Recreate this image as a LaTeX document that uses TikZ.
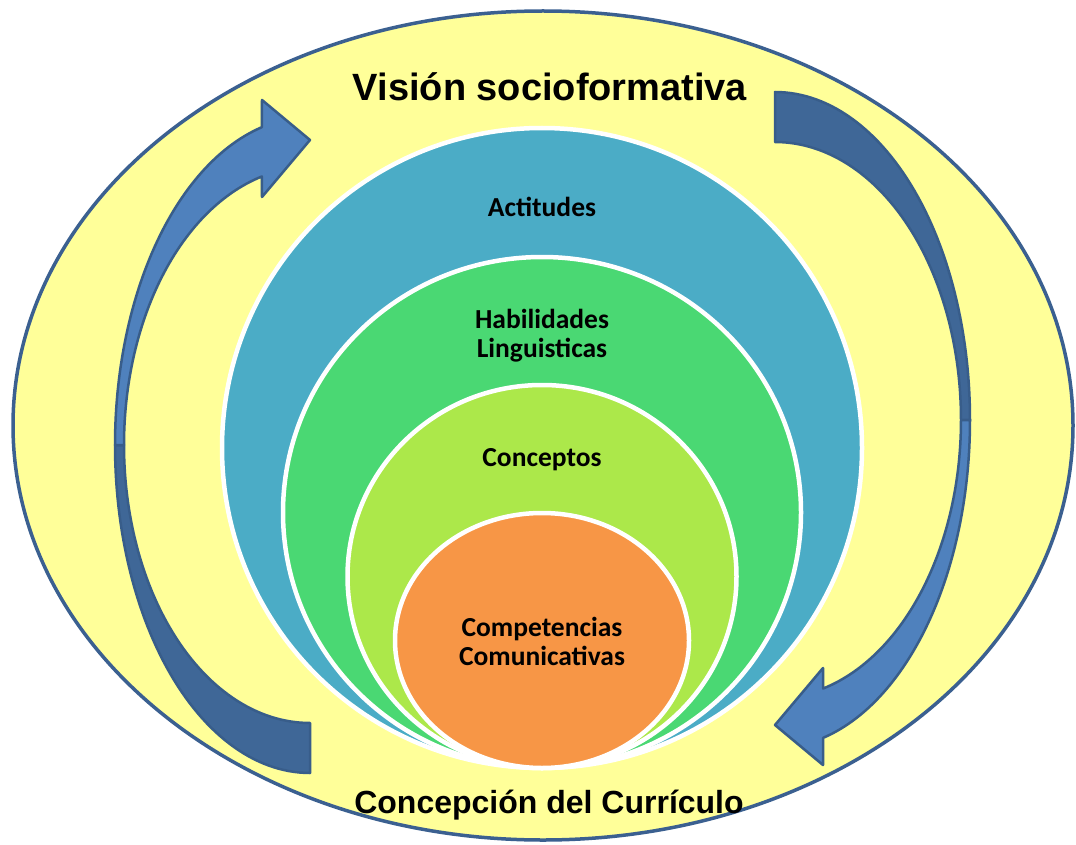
\documentclass[tikz,border=0pt]{standalone}
\usepackage{fontspec}
\setmainfont{Liberation Sans}
\newfontfamily\calfont{Carlito}
\usetikzlibrary{shapes.geometric}
\definecolor{bgyellow}{HTML}{FFFF99}
\definecolor{rimblue}{HTML}{3B6090}
\definecolor{ringblue}{HTML}{4BACC6}
\definecolor{ringgreen}{HTML}{4AD873}
\definecolor{ringlime}{HTML}{ACE84A}
\definecolor{ringorange}{HTML}{F79646}
\definecolor{arrowlight}{HTML}{4F81BD}
\definecolor{arrowdark}{HTML}{3F6797}
\definecolor{arrowrim}{HTML}{385D8A}
\tikzset{
  ring/.style={ellipse, draw=white, line width=4.5pt, inner sep=0pt},
  innertext/.style={font=\calfont\bfseries\fontsize{27.5}{30}\selectfont, text=black, inner sep=0pt, anchor=base},
  titletext/.style={font=\bfseries, text=black, inner sep=0pt, anchor=base},
  arrowpart/.style={draw=arrowrim, line width=2.5pt, line join=round},
}
\newcommand{\curvedarrow}{%
  % back (tail) part
  \filldraw[arrowpart, fill=arrowdark]
    plot[domain=90:180, samples=60] ({310+195*cos(\x)},{445+328*sin(\x)})
    -- plot[domain=180:90, samples=60] ({310+186*cos(\x)},{445+278*sin(\x)})
    -- cycle;
  % front (head) part
  \filldraw[arrowpart, fill=arrowlight]
    plot[domain=180:255.7, samples=60] ({310+195*cos(\x)},{445+328*sin(\x)})
    -- (262,100) -- (310,140) -- (262,197)
    -- plot[domain=255:180, samples=60] ({310+186*cos(\x)},{445+278*sin(\x)})
    -- cycle;
}
\begin{document}
\begin{tikzpicture}[x=1pt,y=-1pt]
\useasboundingbox (0,0) rectangle (1076,845);
\node[ellipse, draw=rimblue, line width=3.5pt, fill=bgyellow, inner sep=0pt,
      minimum width=1060pt, minimum height=829pt] (outer) at (543,425.5) {};

% curved arrows
\begin{scope}
  \curvedarrow
\end{scope}
\begin{scope}[rotate around={180:(542.5,432.5)}]
  \curvedarrow
\end{scope}

% nested rings
\node[ring, fill=ringblue, minimum width=640pt, minimum height=640pt] (actitudes) at (542,448) {};
\node[ring, fill=ringgreen, minimum width=518pt, minimum height=511pt] (habilidades) at (542,512.5) {};
\node[ring, fill=ringlime, minimum width=389pt, minimum height=383pt] (conceptos) at (542,576.5) {};
\node[ring, fill=ringorange, minimum width=294pt, minimum height=255pt] (competencias) at (542,640.5) {};

% labels
\node[titletext, font=\bfseries\fontsize{38}{40}\selectfont] (vision) at (550,101) {Visión socioformativa};
\node[titletext, font=\bfseries\fontsize{32}{34}\selectfont] (concepcion) at (549,813) {Concepción del Currículo};
\node[innertext] (tact) at (542,217) {Actitudes};
\node[innertext] (thab1) at (542,328) {Habilidades};
\node[innertext] (thab2) at (542,357) {Linguisticas};
\node[innertext] (tcon) at (542,466) {Conceptos};
\node[innertext] (tcomp1) at (542,636) {Competencias};
\node[innertext] (tcomp2) at (542,665) {Comunicativas};
\end{tikzpicture}
\end{document}
